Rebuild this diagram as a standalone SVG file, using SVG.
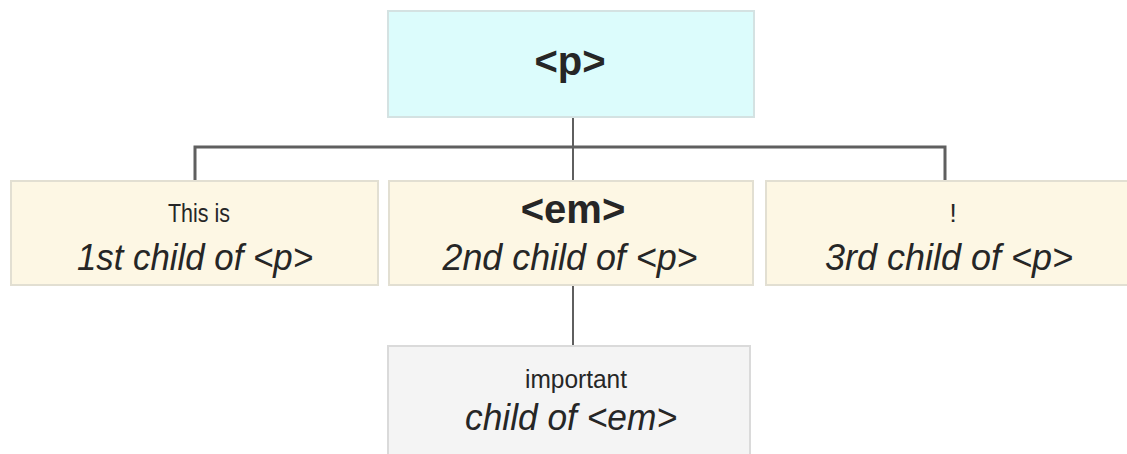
<svg xmlns="http://www.w3.org/2000/svg" width="1127" height="454" viewBox="0 0 1127 454">
<style>
.box{stroke-width:2}
.top{fill:#dcfcfc;stroke:#d4e2e2}
.child{fill:#fdf7e4;stroke:#e2dfd2}
.gchild{fill:#f4f4f4;stroke:#dadada}
text{font-family:"Liberation Sans",Arial,sans-serif;fill:#262626;text-anchor:middle}
.tag{font-weight:bold;font-size:40px}
.small{font-size:26px}
.desc{font-style:italic;font-size:36px}
.conn{stroke:#5f5f5f;fill:none}
</style>
<rect width="1127" height="454" fill="#ffffff"/>
<g id="connectors">
<path class="conn" stroke-width="2" d="M573 117 V147"/>
<path class="conn" stroke-width="3" d="M195 180 V147 H945 V180"/>
<path class="conn" stroke-width="2" d="M573 147 V180"/>
<path class="conn" stroke-width="2" d="M573 285 V345"/>
</g>
<g id="node-p">
<rect class="box top" x="388" y="11" width="366" height="106"/>
<text class="tag" x="570" y="75">&lt;p&gt;</text>
</g>
<g id="node-this-is">
<rect class="box child" x="11" y="181" width="367" height="104"/>
<text class="small" x="199" y="222" textLength="62" lengthAdjust="spacingAndGlyphs">This is</text>
<text class="desc" x="195" y="270" textLength="236" lengthAdjust="spacingAndGlyphs">1st child of &lt;p&gt;</text>
</g>
<g id="node-em">
<rect class="box child" x="389" y="181" width="364" height="104"/>
<text class="tag" x="573" y="223">&lt;em&gt;</text>
<text class="desc" x="570" y="270" textLength="255" lengthAdjust="spacingAndGlyphs">2nd child of &lt;p&gt;</text>
</g>
<g id="node-excl">
<rect class="box child" x="766" y="181" width="370" height="104"/>
<text class="small" x="953" y="222">!</text>
<text class="desc" x="949" y="270" textLength="248" lengthAdjust="spacingAndGlyphs">3rd child of &lt;p&gt;</text>
</g>
<g id="node-important">
<rect class="box gchild" x="388" y="346" width="362" height="112"/>
<text class="small" x="576" y="388" textLength="102" lengthAdjust="spacingAndGlyphs">important</text>
<text class="desc" x="571" y="430" textLength="212" lengthAdjust="spacingAndGlyphs">child of &lt;em&gt;</text>
</g>
</svg>
